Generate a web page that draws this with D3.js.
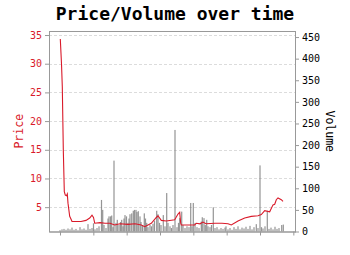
<!DOCTYPE html>
<html>
<head>
<meta charset="utf-8">
<script src="https://cdn.jsdelivr.net/npm/d3@7"></script>
<style>
  body { margin: 0; background: #fff; }
  text { font-family: "DejaVu Sans Mono", monospace; }
</style>
</head>
<body>
<div id="chart"></div>
<script>

// price line (time in decimal years)
var priceTimes = [2014.009, 2014.045, 2014.069, 2014.099, 2014.129, 2014.159, 2014.195, 2014.219, 2014.240,
  2014.291, 2014.339, 2014.360, 2014.630, 2014.780, 2014.891, 2014.960, 2015.005, 2015.041, 2015.200,
  2015.350, 2015.500, 2015.641, 2015.800, 2016.040, 2016.250, 2016.439, 2016.541, 2016.640, 2016.739,
  2016.889, 2016.940, 2017.039, 2017.189, 2017.441, 2017.540, 2017.591, 2017.621, 2017.639, 2017.840,
  2018.041, 2018.089, 2018.200, 2018.290, 2018.380, 2018.650, 2018.860, 2019.040, 2019.139, 2019.340,
  2019.541, 2019.739, 2019.940, 2020.039, 2020.141, 2020.291, 2020.390, 2020.441, 2020.489, 2020.540,
  2020.639, 2020.690];
var priceValues = [34.3, 30, 26, 15, 7.7, 7.1, 7.0, 7.3, 5.7,
  3.4, 2.8, 2.5, 2.5, 2.7, 3.1, 3.6, 3.2, 2.2, 2.3,
  2.2, 2.2, 1.9, 2.1, 2.0, 2.1, 1.9, 1.6, 1.9, 2.2,
  3.2, 3.5, 2.7, 2.6, 2.8, 3.8, 4.1, 2.2, 1.9, 1.9,
  1.9, 2.2, 2.1, 2.4, 2.1, 2.2, 2.2, 2.1, 1.9, 2.6,
  3.1, 3.4, 3.5, 3.7, 4.4, 4.2, 5.4, 5.5, 6.3, 6.6,
  6.3, 6.0];

// volume bars
var volTimes = [2014.000, 2014.060, 2014.120, 2014.180, 2014.240, 2014.300, 2014.360, 2014.420, 2014.480,
  2014.540, 2014.600, 2014.660, 2014.720, 2014.780, 2014.840, 2014.900, 2014.960, 2015.005, 2015.050,
  2015.110, 2015.170, 2015.245, 2015.281, 2015.320, 2015.380, 2015.440, 2015.470, 2015.515, 2015.551,
  2015.590, 2015.620, 2015.680, 2015.719, 2015.770, 2015.815, 2015.851, 2015.890, 2015.920, 2015.950,
  2015.995, 2016.040, 2016.070, 2016.100, 2016.151, 2016.199, 2016.235, 2016.280, 2016.310, 2016.349,
  2016.400, 2016.430, 2016.475, 2016.529, 2016.565, 2016.601, 2016.640, 2016.700, 2016.745, 2016.790,
  2016.835, 2016.901, 2016.940, 2016.985, 2017.030, 2017.099, 2017.150, 2017.201, 2017.240, 2017.300,
  2017.345, 2017.390, 2017.450, 2017.510, 2017.555, 2017.591, 2017.651, 2017.690, 2017.750, 2017.810,
  2017.870, 2017.921, 2017.960, 2017.999, 2018.050, 2018.110, 2018.170, 2018.239, 2018.269, 2018.320,
  2018.359, 2018.401, 2018.440, 2018.500, 2018.545, 2018.599, 2018.650, 2018.710, 2018.770, 2018.830,
  2018.890, 2018.950, 2018.980, 2019.040, 2019.100, 2019.160, 2019.220, 2019.280, 2019.340, 2019.400,
  2019.460, 2019.520, 2019.580, 2019.640, 2019.700, 2019.760, 2019.820, 2019.889, 2019.940, 2020.000,
  2020.045, 2020.090, 2020.150, 2020.219, 2020.270, 2020.330, 2020.390, 2020.450, 2020.510, 2020.570,
  2020.651, 2020.699];
var volValues = [3, 5, 6, 4, 7, 5, 9, 4, 6,
  3, 10, 5, 7, 4, 17, 6, 8, 19, 5,
  8, 12, 73, 50, 15, 8, 30, 35, 35, 37,
  10, 164, 20, 27, 15, 22, 27, 12, 30, 38,
  35, 20, 30, 40, 42, 48, 50, 50, 45, 47,
  35, 22, 15, 42, 30, 20, 10, 15, 12, 18,
  25, 48, 40, 20, 15, 38, 12, 89, 20, 12,
  8, 15, 235, 10, 20, 31, 46, 15, 8, 12,
  10, 66, 12, 66, 20, 10, 8, 23, 33, 31,
  15, 27, 12, 10, 15, 56, 8, 10, 5, 8,
  6, 9, 12, 5, 8, 4, 10, 6, 12, 5,
  9, 7, 11, 6, 13, 5, 10, 17, 8, 153,
  10, 7, 12, 48, 6, 9, 5, 11, 6, 8,
  15, 16];

// axis ticks
var yearTicks = [2014, 2015, 2016, 2017, 2018, 2019, 2020, 2021];
var priceTicks = [5, 10, 15, 20, 25, 30, 35];
var volTicks = [0, 50, 100, 150, 200, 250, 300, 350, 400, 450];

var width = 350, height = 255;
var margin = {top: 31, right: 55, bottom: 23.5, left: 49};
var w = width - margin.left - margin.right,
    h = height - margin.top - margin.bottom;

var red = "#d91a2a";

var svg = d3.select("#chart").append("svg")
  .attr("width", width)
  .attr("height", height);

// title
svg.append("text")
  .attr("x", 175)
  .attr("y", 20)
  .attr("text-anchor", "middle")
  .style("font-size", "18px")
  .style("font-weight", "bold")
  .text("Price/Volume over time");

var g = svg.append("g").attr("transform", "translate(" + margin.left + "," + margin.top + ")");

var x = d3.scaleLinear().domain([2013.67, 2021.05]).range([0, w]);
var yPrice = d3.scaleLinear().domain([0.76, 35.7]).range([h, 0]);
var yVol = d3.scaleLinear().domain([0, 464]).range([h, 0]);

// dashed grid on price ticks
g.selectAll(".grid")
  .data(priceTicks)
  .enter().append("line")
  .attr("class", "grid")
  .attr("x1", 0).attr("x2", w)
  .attr("y1", function(d){ return Math.round(yPrice(d)) + 0.5 })
  .attr("y2", function(d){ return Math.round(yPrice(d)) + 0.5 })
  .style("stroke", "#dcdcdc")
  .style("stroke-dasharray", "3,2")
  .style("stroke-width", 1);

// volume bars
var bars = volTimes.map(function(t, i){ return {t: t, v: volValues[i]} });
g.selectAll(".bar")
  .data(bars)
  .enter().append("rect")
  .attr("class", "bar")
  .attr("x", function(d){ return x(d.t) - 0.6 })
  .attr("width", 1.2)
  .attr("y", function(d){ return yVol(d.v) })
  .attr("height", function(d){ return h - yVol(d.v) })
  .style("fill", "#7a7a7a")
  .style("opacity", 0.8);

// price line
var pts = priceTimes.map(function(t, i){ return {t: t, p: priceValues[i]} });
var line = d3.line()
  .x(function(d){ return x(d.t) })
  .y(function(d){ return yPrice(d.p) });

g.append("path")
  .datum(pts)
  .attr("d", line)
  .style("fill", "none")
  .style("stroke", red)
  .style("stroke-width", 1.1);

// frame
g.append("rect")
  .attr("x", 0.5).attr("y", 0.5)
  .attr("width", w).attr("height", h)
  .style("fill", "none")
  .style("stroke", "#999");

// axes
var xAxis = g.append("g")
  .attr("transform", "translate(0," + h + ")")
  .call(d3.axisBottom(x).tickValues(yearTicks).tickFormat("").tickSizeInner(4).tickSizeOuter(0));

var leftAxis = g.append("g")
  .call(d3.axisLeft(yPrice).tickValues(priceTicks).tickSizeInner(4).tickSizeOuter(0).tickPadding(3));

var rightAxis = g.append("g")
  .attr("transform", "translate(" + w + ",0)")
  .call(d3.axisRight(yVol).tickValues(volTicks).tickSizeInner(4).tickSizeOuter(0).tickPadding(3));

[xAxis, leftAxis, rightAxis].forEach(function(a){
  a.select(".domain").style("stroke", "#999");
  a.selectAll(".tick line").style("stroke", "#999");
  a.selectAll(".tick text")
    .style("font-family", "DejaVu Sans Mono, monospace")
    .style("font-size", "10px");
});
leftAxis.selectAll(".tick text").style("fill", red);
rightAxis.selectAll(".tick text").style("fill", "#000");

// axis titles
svg.append("text")
  .attr("transform", "translate(23," + (margin.top + h / 2) + ") rotate(-90)")
  .attr("text-anchor", "middle")
  .style("font-size", "11.5px")
  .style("fill", red)
  .text("Price");

svg.append("text")
  .attr("transform", "translate(326," + (margin.top + h / 2) + ") rotate(90)")
  .attr("text-anchor", "middle")
  .style("font-size", "11.5px")
  .style("fill", "#000")
  .text("Volume");

</script>
</body>
</html>
